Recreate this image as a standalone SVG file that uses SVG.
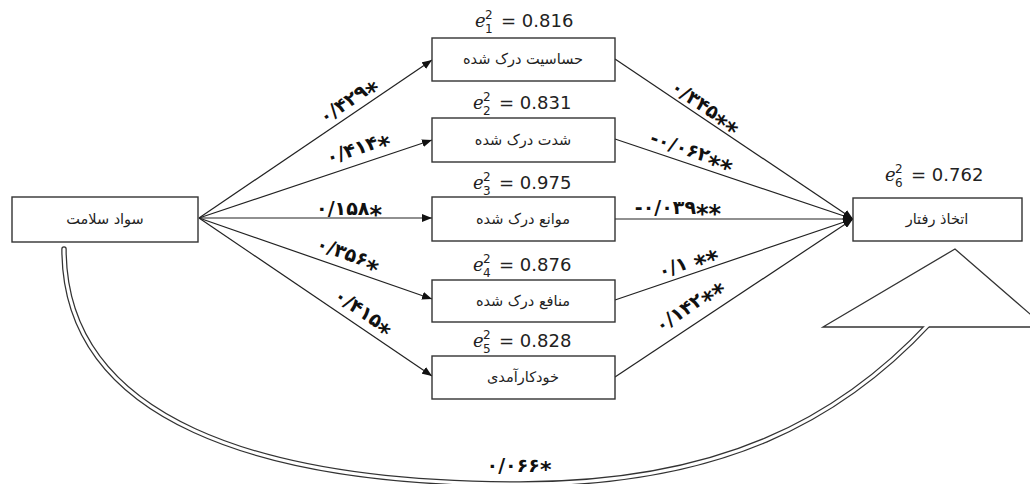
<svg xmlns="http://www.w3.org/2000/svg" width="1030" height="484" viewBox="0 0 1030 484">
<style>
.box{fill:#fff;stroke:#333;stroke-width:1.4}
.bt{font-family:"DejaVu Sans",sans-serif;font-size:14.5px;fill:#222;text-anchor:middle}
.cf{font-family:"DejaVu Sans",sans-serif;font-size:19px;font-weight:bold;fill:#111;text-anchor:middle;letter-spacing:0.5px}
.st{font-size:24px}
.ee{font-family:"DejaVu Serif",serif;font-style:italic;font-size:18px;fill:#222}
.en{font-family:"DejaVu Sans",sans-serif;font-size:18px;fill:#222}
.es{font-family:"DejaVu Sans",sans-serif;font-size:12px;fill:#222}
.ln{stroke:#222;stroke-width:1.2;fill:none;marker-end:url(#ah)}
</style>
<defs>
<marker id="ah" viewBox="0 0 10 8" refX="10" refY="4" markerWidth="10" markerHeight="8" markerUnits="userSpaceOnUse" orient="auto"><path d="M0,0 L10,4 L0,8 z" fill="#111"/></marker>
</defs>
<rect width="1030" height="484" fill="#fff"/>
<g id="connectors">
<line class="ln" x1="199" y1="218" x2="432" y2="60"/>
<line class="ln" x1="199" y1="218" x2="432" y2="140"/>
<line class="ln" x1="199" y1="218" x2="432" y2="218"/>
<line class="ln" x1="199" y1="218" x2="432" y2="299"/>
<line class="ln" x1="199" y1="218" x2="432" y2="376"/>
<line class="ln" x1="615" y1="59" x2="853" y2="219"/>
<line class="ln" x1="615" y1="139" x2="853" y2="219"/>
<line class="ln" x1="615" y1="219" x2="853" y2="219"/>
<line class="ln" x1="615" y1="300" x2="853" y2="219"/>
<line class="ln" x1="615" y1="377" x2="853" y2="219"/>
<path d="M64,249 C64,420 260,484 520,484 C720,484 840,420 930,323" fill="none" stroke="#333" stroke-width="5.5" stroke-linecap="round"/>
<polygon points="823,327 955,249 1045,327" fill="#fff" stroke="#333" stroke-width="1.3"/>
<path d="M64,249 C64,420 260,484 520,484 C720,484 840,420 930,323" fill="none" stroke="#fff" stroke-width="3" stroke-linecap="round"/>
</g>
<g id="labels">
<text class="cf" transform="translate(352,106) rotate(-34.3)">۰/۴۲۹<tspan class="st" dy="8">*</tspan></text>
<text class="cf" transform="translate(360,154) rotate(-18.6)">۰/۴۱۴<tspan class="st" dy="8">*</tspan></text>
<text class="cf" x="349" y="215">۰/۱۵۸<tspan class="st" dy="8">*</tspan></text>
<text class="cf" transform="translate(346,260) rotate(19.7)">۰/۳۵۶<tspan class="st" dy="8">*</tspan></text>
<text class="cf" transform="translate(360,317) rotate(34.4)">۰/۴۱۵<tspan class="st" dy="8">*</tspan></text>
<text class="cf" transform="translate(702,112) rotate(34)">۰/۳۴۵<tspan class="st" dy="8">**</tspan></text>
<text class="cf" transform="translate(690,157) rotate(18.6)">-۰/۰۶۲<tspan class="st" dy="8">**</tspan></text>
<text class="cf" x="678" y="214">-۰/۰۳۹<tspan class="st" dy="8">**</tspan></text>
<text class="cf" transform="translate(690,268) rotate(-19.7)">۰/۱ <tspan class="st" dy="8">**</tspan></text>
<text class="cf" transform="translate(693,311) rotate(-34.4)">۰/۱۴۲<tspan class="st" dy="8">**</tspan></text>
<text class="cf" x="519" y="472">۰/۰۶۶<tspan style="font-size:22px" dy="5">*</tspan></text>
</g>
<g id="n0"><rect class="box" x="12" y="197" width="186" height="45"/><text class="bt" x="105" y="224">سواد سلامت</text></g>
<g id="n1"><rect class="box" x="432" y="38" width="183" height="43"/><text class="bt" x="523" y="64">حساسیت درک شده</text>
<text class="ee" x="475" y="27">e</text><text class="es" x="485" y="19">2</text><text class="es" x="485" y="33">1</text><text class="en" x="501" y="27">= 0.816</text></g>
<g id="n2"><rect class="box" x="432" y="118" width="183" height="44"/><text class="bt" x="523" y="145">شدت  درک شده</text>
<text class="ee" x="473" y="109">e</text><text class="es" x="483" y="101">2</text><text class="es" x="483" y="115">2</text><text class="en" x="499" y="109">= 0.831</text></g>
<g id="n3"><rect class="box" x="432" y="197" width="183" height="44"/><text class="bt" x="523" y="224">موانع درک شده</text>
<text class="ee" x="473" y="189">e</text><text class="es" x="483" y="181">2</text><text class="es" x="483" y="195">3</text><text class="en" x="499" y="189">= 0.975</text></g>
<g id="n4"><rect class="box" x="432" y="280" width="183" height="42"/><text class="bt" x="523" y="306">منافع درک شده</text>
<text class="ee" x="473" y="271">e</text><text class="es" x="483" y="263">2</text><text class="es" x="483" y="277">4</text><text class="en" x="499" y="271">= 0.876</text></g>
<g id="n5"><rect class="box" x="432" y="356" width="183" height="43"/><text class="bt" x="523" y="382">خودکارآمدی</text>
<text class="ee" x="473" y="347">e</text><text class="es" x="483" y="339">2</text><text class="es" x="483" y="353">5</text><text class="en" x="499" y="347">= 0.828</text></g>
<g id="n6"><rect class="box" x="853" y="198" width="169" height="43"/><text class="bt" x="937" y="224">اتخاذ رفتار</text>
<text class="ee" x="885" y="181">e</text><text class="es" x="895" y="173">2</text><text class="es" x="895" y="187">6</text><text class="en" x="911" y="181">= 0.762</text></g>
</svg>
